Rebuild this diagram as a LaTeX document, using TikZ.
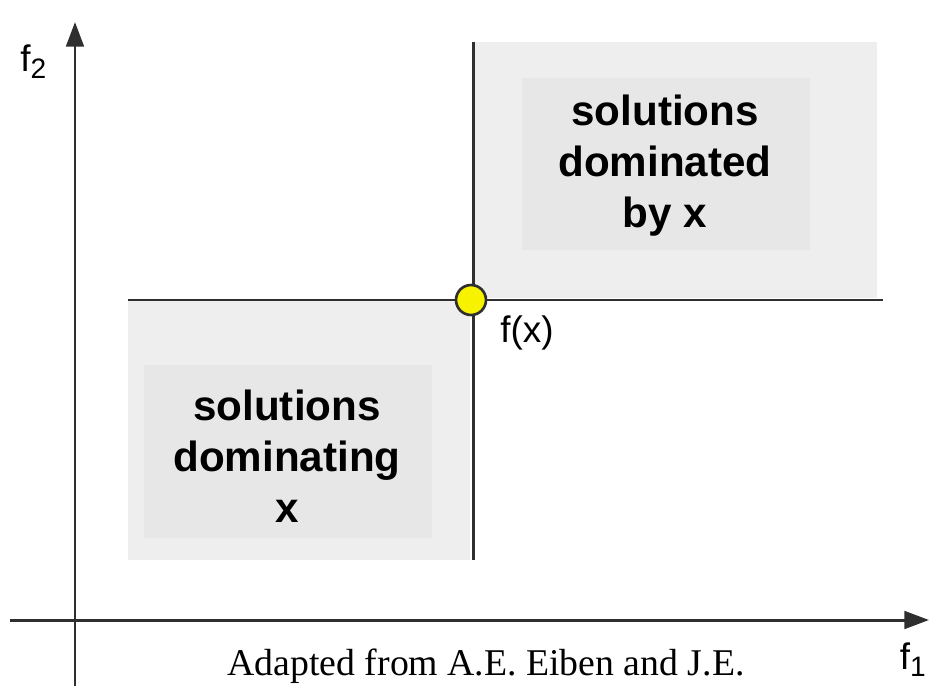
\documentclass[tikz,border=0pt]{standalone}
\usepackage{fontspec}
\setmainfont{Liberation Serif}
\setsansfont{Liberation Sans}
\usetikzlibrary{arrows.meta}
\definecolor{boxgray}{HTML}{EEEEEE}
\definecolor{innergray}{HTML}{E7E7E7}
\definecolor{linegray}{HTML}{2F2F2F}
\definecolor{dotyellow}{HTML}{F6F200}
\tikzset{
  axisline/.style={draw=linegray,line width=1.7pt,-{Triangle[length=14pt,width=10pt]}},
  boundline/.style={draw=linegray,line width=1.7pt},
  regiontext/.style={font=\sffamily\bfseries\fontsize{24}{29}\selectfont,align=center,inner sep=0pt},
  axistext/.style={font=\sffamily\fontsize{21}{21}\selectfont,inner sep=0pt},
}
\newcommand{\subidx}[1]{\raisebox{-0.35ex}{\fontsize{16}{16}\selectfont #1}}
\begin{document}
\begin{tikzpicture}[x=0.02cm,y=-0.02cm]
				\useasboundingbox[fill=white] (0,0) rectangle (929,686);
				% shaded regions
				\fill[boxgray] (128,300) rectangle (470,560);
				\fill[innergray] (144,365) rectangle (432,538);
				\fill[boxgray] (475,42) rectangle (877,298);
				\fill[innergray] (522,78) rectangle (810,250);
				\path
				(75,686) coordinate (ybot)
				(75,22) coordinate (ytop)
				(10,620) coordinate (xleft)
				(929,620) coordinate (xright)
				(128,300) coordinate (hleft)
				(883,300) coordinate (hright)
				(473,42) coordinate (vtop)
				(473,560) coordinate (vbot)
				(471,300) coordinate (P);
				\draw[axisline] (ybot)--(ytop);
				\draw[axisline] (xleft)--(xright);
				\draw[boundline] (hleft)--(hright);
				\draw[boundline] (vtop)--(vbot);
				\node[circle,draw=linegray,line width=1.5pt,fill=dotyellow,inner sep=0pt,minimum size=0.6cm] (dot) at (P) {};
				\node[axistext,anchor=west] (fx) at (500,333) {f(x)};
				\node[axistext,anchor=west] (ftwo) at (20,62) {f\subidx{2}};
				\node[axistext,anchor=east] (fone) at (926,660) {f\subidx{1}};
				\node[regiontext] (dominating) at (287,456) {solutions\\dominating\\x};
				\node[regiontext] (dominated) at (665,166) {solutions\\dominated\\by x};
				\node[font=\fontsize{21.5}{21.5}\selectfont,inner sep=0pt] (source) at (486,666) {Adapted from A.E. Eiben and J.E.};
			\end{tikzpicture}
\end{document}
